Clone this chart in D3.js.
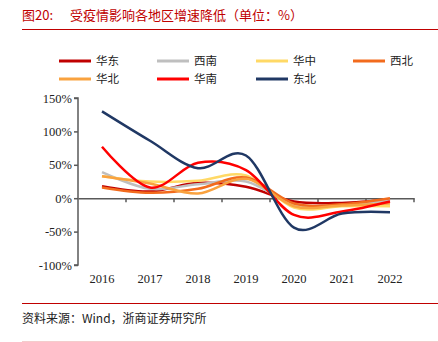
<!DOCTYPE html>
<html>
<head>
<meta charset="utf-8">
<script src="https://cdn.jsdelivr.net/npm/d3@7"></script>
<style>
  body { margin: 0; background: #fff; }
  svg { display: block; }
</style>
</head>
<body>
<svg id="chart" width="438" height="342"></svg>
<script>
// data (percent)
var years = ["2016", "2017", "2018", "2019", "2020", "2021", "2022"];
var regions = ["华东", "西南", "华中", "西北", "华北", "华南", "东北"];
var colors = ["#C00000", "#BFBFBF", "#FFD966", "#F26B1D", "#F9A23F", "#FF0000", "#203864"];
var huadong  = [18, 10, 23, 17, -5, -7, -2];
var xinan    = [39, 14, 21, 25, -9, -10, -3];
var huazhong = [33, 25, 26, 34, -14, -12, -12];
var xibei    = [16, 8, 14, 31, -8, -9, 0];
var huabei   = [33, 22, 7, 29, -12, -11, -8];
var huanan   = [77, 16, 53, 42, -25, -20, -5];
var dongbei  = [130, 86, 45, 64, -44, -23, -21];
var series = [huadong, xinan, huazhong, xibei, huabei, huanan, dongbei];
var yTicks = [150, 100, 50, 0, -50, -100];

var svg = d3.select("#chart");
var serif = "'Liberation Serif', 'Times New Roman', serif";
var cjk = "'Noto Sans CJK SC', sans-serif";

// title + rule
svg.append("text")
    .attr("x", 22).attr("y", 20)
    .style("font-family", cjk).style("font-size", "13px")
    .attr("fill", "#C00000")
    .text("图20:");
svg.append("text")
    .attr("x", 70).attr("y", 20)
    .style("font-family", cjk).style("font-size", "13px")
    .attr("fill", "#C00000")
    .text("受疫情影响各地区增速降低（单位：%）");
svg.append("line")
    .attr("x1", 22).attr("x2", 438).attr("y1", 29.5).attr("y2", 29.5)
    .attr("stroke", "#C00000").attr("stroke-width", 1);

// legend
var legX = [59, 157, 256, 353];
regions.forEach(function(name, i) {
    var lx = legX[i % 4], ly = i < 4 ? 61 : 79;
    svg.append("line")
        .attr("x1", lx).attr("x2", lx + 32).attr("y1", ly).attr("y2", ly)
        .attr("stroke", colors[i]).attr("stroke-width", 3);
    svg.append("text")
        .attr("x", lx + 37).attr("y", ly + 4)
        .style("font-family", cjk).style("font-size", "11.5px")
        .attr("fill", "#222")
        .text(name);
});

// scales
var x = d3.scaleBand().domain(years).range([78, 414]);
var y = d3.scaleLinear().domain([-100, 150]).range([265, 98]);

// y axis
var yAxis = svg.append("g")
    .attr("transform", "translate(78,0)")
    .call(d3.axisLeft(y).tickValues(yTicks).tickSize(4).tickFormat(function(d) { return d + "%"; }));
yAxis.select(".domain").attr("stroke", "#595959").attr("stroke-width", 1.5).attr("d", "M-4," + y(-100) + "H0V" + y(150) + "H-4");
yAxis.selectAll(".tick line").attr("stroke", "#595959").attr("stroke-width", 1.5);
yAxis.selectAll(".tick text")
    .style("font-family", serif).style("font-size", "12.5px").attr("fill", "#222").attr("x", -6);

// x axis on zero line
var xAxis = svg.append("g")
    .attr("transform", "translate(0," + y(0) + ")")
    .call(d3.axisBottom(x).tickSize(0).tickFormat(""));
xAxis.select(".domain").attr("stroke", "#595959").attr("stroke-width", 1.5);
years.forEach(function(yr) {
    xAxis.append("line")
        .attr("x1", x(yr) + x.bandwidth()).attr("x2", x(yr) + x.bandwidth())
        .attr("y1", 0).attr("y2", 4)
        .attr("stroke", "#595959").attr("stroke-width", 1.5);
});
svg.append("g").selectAll("text")
    .data(years).enter().append("text")
    .attr("x", function(d) { return x(d) + x.bandwidth() / 2; })
    .attr("y", 283)
    .attr("text-anchor", "middle")
    .style("font-family", serif).style("font-size", "12.5px").attr("fill", "#222")
    .text(function(d) { return d; });

// lines, smoothed like the spreadsheet does it
var line = d3.line()
    .x(function(d, i) { return x(years[i]) + x.bandwidth() / 2; })
    .y(function(d) { return y(d); })
    .curve(d3.curveCatmullRom.alpha(0));

svg.append("g").selectAll("path")
    .data(series).enter().append("path")
    .attr("d", line)
    .attr("fill", "none")
    .attr("stroke", function(d, i) { return colors[i]; })
    .attr("stroke-width", 2.5);

// footer
svg.append("line")
    .attr("x1", 22).attr("x2", 438).attr("y1", 303.5).attr("y2", 303.5)
    .attr("stroke", "#C00000").attr("stroke-width", 1);
svg.append("text")
    .attr("x", 22).attr("y", 323)
    .style("font-family", cjk).style("font-size", "12px").attr("fill", "#222")
    .text("资料来源：Wind，浙商证券研究所");
svg.append("line")
    .attr("x1", 22).attr("x2", 438).attr("y1", 341.5).attr("y2", 341.5)
    .attr("stroke", "#F4CCCC").attr("stroke-width", 1);
</script>
</body>
</html>
